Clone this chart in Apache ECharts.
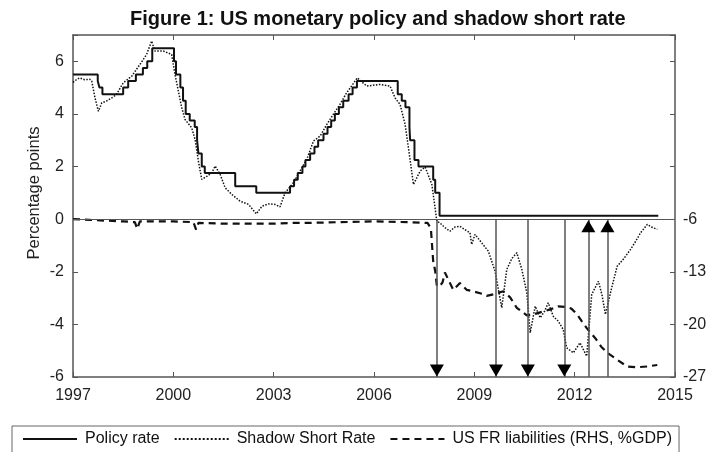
<!DOCTYPE html>
<html>
<head>
<meta charset="utf-8">
<script src="https://cdn.jsdelivr.net/npm/echarts@6/dist/echarts.min.js"></script>
<style>
html, body { margin: 0; padding: 0; background: #fff; }
#main { width: 710px; height: 452px; }
</style>
</head>
<body>
<div id="main"></div>
<script>
var myChart = echarts.init(document.getElementById('main'));

// policy rate (step changes), x = year as labelled on the chart
var policyDates = [1997.0, 1997.74, 1997.79, 1997.88, 1998.50, 1998.65, 1998.88, 1999.09, 1999.22, 1999.37,
    2000.02, 2000.08, 2000.21, 2000.29, 2000.37, 2000.49, 2000.64, 2000.71, 2000.75, 2000.85, 2000.94,
    2001.85, 2002.48, 2003.49, 2003.61, 2003.72, 2003.86, 2003.95, 2004.09, 2004.22, 2004.33, 2004.49,
    2004.61, 2004.72, 2004.83, 2004.95, 2005.08, 2005.24, 2005.36, 2005.49, 2006.71, 2006.83, 2006.94,
    2007.06, 2007.08, 2007.21, 2007.33, 2007.77, 2007.83, 2007.96, 2014.5];
var policyValues = [5.5, 5.25, 5.0, 4.75, 5.0, 5.25, 5.5, 5.75, 6.0, 6.5,
    6.0, 5.5, 5.0, 4.5, 4.0, 3.75, 3.5, 3.0, 2.5, 2.0, 1.75,
    1.25, 1.0, 1.25, 1.5, 1.75, 2.0, 2.25, 2.5, 2.75, 3.0, 3.25,
    3.5, 3.75, 4.0, 4.25, 4.5, 4.75, 5.0, 5.25, 4.75, 4.5, 4.25,
    3.5, 3.0, 2.25, 2.0, 1.5, 1.0, 0.125, 0.125];

// shadow short rate
var shadowDates = [1997.0, 1997.1, 1997.2, 1997.35, 1997.5, 1997.56, 1997.66, 1997.76, 1997.86, 1998.0,
    1998.16, 1998.3, 1998.5, 1998.76, 1999.0, 1999.2, 1999.35, 1999.45, 1999.7, 1999.95,
    2000.05, 2000.15, 2000.25, 2000.35, 2000.55, 2000.65, 2000.75, 2000.85, 2001.0, 2001.15,
    2001.25, 2001.4, 2001.55, 2001.75, 2002.0, 2002.25, 2002.48, 2002.65, 2002.84, 2003.04,
    2003.19, 2003.34, 2003.59, 2003.79, 2003.99, 2004.19, 2004.39, 2004.59, 2004.78, 2004.98,
    2005.18, 2005.33, 2005.5, 2005.78, 2006.18, 2006.48, 2006.63, 2006.78, 2006.93, 2007.03,
    2007.18, 2007.38, 2007.53, 2007.73, 2007.88, 2007.97, 2008.1, 2008.27, 2008.42, 2008.57,
    2008.72, 2008.87, 2008.92, 2009.02, 2009.22, 2009.42, 2009.62, 2009.82, 2009.97, 2010.12,
    2010.27, 2010.42, 2010.57, 2010.67, 2010.82, 2010.97, 2011.1, 2011.21, 2011.36, 2011.51,
    2011.66, 2011.76, 2011.96, 2012.16, 2012.36, 2012.51, 2012.71, 2012.82, 2012.92, 2013.07,
    2013.27, 2013.47, 2013.67, 2013.82, 2013.97, 2014.17, 2014.3, 2014.47];
var shadowValues = [5.2, 5.3, 5.37, 5.3, 5.32, 5.25, 4.6, 4.1, 4.42, 4.49,
    4.61, 4.74, 5.18, 5.44, 5.88, 6.26, 6.77, 6.39, 6.39, 6.26,
    5.5, 4.87, 4.24, 3.79, 3.47, 3.03, 2.2, 1.51, 1.63, 1.76,
    2.02, 1.7, 1.19, 0.94, 0.68, 0.56, 0.2, 0.49, 0.58, 0.56,
    0.47, 1.0, 1.38, 1.83, 2.27, 2.97, 3.16, 3.6, 3.98, 4.36,
    4.8, 5.06, 5.37, 5.06, 5.12, 5.06, 4.61, 4.36, 3.6, 2.71,
    1.32, 1.83, 1.98, 1.32, -0.08, -0.14, -0.3, -0.46, -0.3, -0.27,
    -0.4, -0.52, -0.96, -0.58, -0.9, -1.22, -1.98, -3.37, -1.91, -1.5,
    -1.28, -1.91, -2.8, -4.32, -3.31, -3.75, -3.5, -3.18, -3.69, -3.88,
    -4.2, -4.89, -5.08, -4.7, -5.21, -2.86, -2.36, -2.9, -3.62, -2.8,
    -1.79, -1.5, -1.15, -0.85, -0.52, -0.2, -0.3, -0.39];

// US FR liabilities, % of GDP (right axis)
var fedDates = [1997.0, 1997.5, 1998.0, 1998.5, 1998.85, 1998.92, 1999.0, 1999.5, 2000.0, 2000.6,
    2000.68, 2000.75, 2001.5, 2002.0, 2002.5, 2003.0, 2003.5, 2004.0, 2005.0, 2006.0,
    2007.0, 2007.6, 2007.7, 2007.77, 2007.83, 2007.88, 2007.97, 2008.05, 2008.12, 2008.37,
    2008.57, 2008.77, 2008.97, 2009.2, 2009.37, 2009.57, 2009.87, 2010.07, 2010.27, 2010.57,
    2010.82, 2011.27, 2011.5, 2011.76, 2011.9, 2012.06, 2012.2, 2012.36, 2012.61, 2012.8,
    2012.98, 2013.27, 2013.57, 2013.87, 2014.17, 2014.47];
var fedValues = [-6.0, -6.1, -6.2, -6.3, -6.4, -7.3, -6.3, -6.3, -6.3, -6.4,
    -7.4, -6.5, -6.6, -6.6, -6.6, -6.6, -6.5, -6.5, -6.4, -6.3,
    -6.4, -6.5, -7.2, -11.6, -12.9, -14.9, -14.9, -14.4, -13.1, -15.4,
    -14.5, -15.4, -15.6, -15.9, -16.2, -16.0, -15.6, -16.4, -17.8, -18.8,
    -18.6, -18.0, -17.6, -17.7, -17.9, -18.6, -19.5, -20.5, -21.8, -23.0,
    -23.8, -24.7, -25.6, -25.7, -25.6, -25.4];

// policy events
var arrowDownDates = [2007.88, 2009.65, 2010.6, 2011.69];
var arrowUpDates = [2012.41, 2012.98];

function pairs(xs, ys) {
    return xs.map(function (x, i) { return [x, ys[i]]; });
}

var arrowLines = [];
var arrowHeads = [];
arrowDownDates.forEach(function (d) {
    arrowLines.push([{ coord: [d, 0] }, { coord: [d, -6] }]);
    arrowHeads.push({ coord: [d, -5.75], symbolRotate: 180 });
});
arrowUpDates.forEach(function (d) {
    arrowLines.push([{ coord: [d, -6] }, { coord: [d, 0] }]);
    arrowHeads.push({ coord: [d, -0.27], symbolRotate: 0 });
});
// zero line
arrowLines.push([
    { coord: [1997, 0], lineStyle: { color: '#555', width: 1 } },
    { coord: [2015, 0] }
]);

var fontFam = '"Liberation Sans", Arial, sans-serif';
var axisCol = '#555';

option = {
    animation: false,
    backgroundColor: '#fff',
    title: {
        text: 'Figure 1: US monetary policy and shadow short rate',
        left: 125,
        top: 4,
        textStyle: { fontFamily: fontFam, fontSize: 20, fontWeight: 'bold', color: '#111' }
    },
    grid: { left: 73, right: 35, top: 35, bottom: 75 },
    legend: {
        left: 12,
        top: 426,
        orient: 'horizontal',
        padding: [5, 7, 8, 10],
        borderColor: '#666',
        borderWidth: 1,
        itemWidth: 54,
        itemHeight: 14,
        itemGap: 14,
        itemStyle: { color: 'transparent', borderColor: 'transparent', borderWidth: 0 },
        textStyle: { fontFamily: fontFam, fontSize: 16, color: '#111', padding: [0, 0, 0, 3] },
        data: ['Policy rate', 'Shadow Short Rate', 'US FR liabilities (RHS, %GDP)']
    },
    graphic: [{
        type: 'text',
        x: 34,
        y: 193,
        rotation: Math.PI / 2,
        style: {
            text: 'Percentage points',
            fontFamily: fontFam,
            fontSize: 16.5,
            fill: '#222',
            textAlign: 'center',
            textVerticalAlign: 'middle'
        }
    }],
    xAxis: [{
        type: 'value',
        min: 1997,
        max: 2015,
        interval: 3,
        position: 'bottom',
        axisLine: { onZero: false, lineStyle: { color: axisCol, width: 1.5 } },
        axisTick: { inside: true, length: 5, lineStyle: { color: axisCol } },
        splitLine: { show: false },
        axisLabel: {
            margin: 11,
            fontFamily: fontFam, fontSize: 16, color: '#222',
            formatter: function (v) { return String(v); }
        }
    }, {
        type: 'value',
        min: 1997,
        max: 2015,
        interval: 3,
        position: 'top',
        axisLine: { onZero: false, lineStyle: { color: axisCol, width: 1.5 } },
        axisTick: { inside: true, length: 5, lineStyle: { color: axisCol } },
        splitLine: { show: false },
        axisLabel: { show: false }
    }],
    yAxis: [{
        type: 'value',
        min: -6,
        max: 7,
        interval: 2,
        axisLine: { show: true, onZero: false, lineStyle: { color: axisCol, width: 1.5 } },
        axisTick: { show: true, inside: true, length: 5, lineStyle: { color: axisCol } },
        splitLine: { show: false },
        axisLabel: {
            margin: 9,
            fontFamily: fontFam, fontSize: 16, color: '#222',
            formatter: function (v) { return v > 6 ? '' : String(v); }
        }
    }, {
        type: 'value',
        position: 'right',
        min: -27,
        max: 18.5,
        interval: 7,
        axisLine: { show: true, onZero: false, lineStyle: { color: axisCol, width: 1.5 } },
        axisTick: { show: true, inside: true, length: 5, lineStyle: { color: axisCol } },
        splitLine: { show: false },
        axisLabel: {
            margin: 8,
            fontFamily: fontFam, fontSize: 16, color: '#222',
            formatter: function (v) { return v > -6 ? '' : String(v); }
        }
    }],
    series: [{
        name: 'Policy rate',
        type: 'line',
        step: 'end',
        symbol: 'none',
        data: pairs(policyDates, policyValues),
        lineStyle: { color: '#111', width: 2 },
        itemStyle: { color: '#111' },
        z: 4,
        markLine: {
            silent: true,
            symbol: ['none', 'none'],
            label: { show: false },
            lineStyle: { color: '#555', width: 1.5, type: 'solid' },
            data: arrowLines
        },
        markPoint: {
            silent: true,
            symbol: 'triangle',
            symbolSize: [14, 12],
            label: { show: false },
            itemStyle: { color: '#000' },
            data: arrowHeads
        }
    }, {
        name: 'Shadow Short Rate',
        type: 'line',
        symbol: 'none',
        data: pairs(shadowDates, shadowValues),
        lineStyle: { color: '#111', width: 1.5, type: 'dotted' },
        itemStyle: { color: '#111' },
        z: 3
    }, {
        name: 'US FR liabilities (RHS, %GDP)',
        type: 'line',
        yAxisIndex: 1,
        symbol: 'none',
        data: pairs(fedDates, fedValues),
        lineStyle: { color: '#111', width: 2.2, type: [7, 5] },
        itemStyle: { color: '#111' },
        z: 3
    }]
};

myChart.setOption(option);
</script>
</body>
</html>
